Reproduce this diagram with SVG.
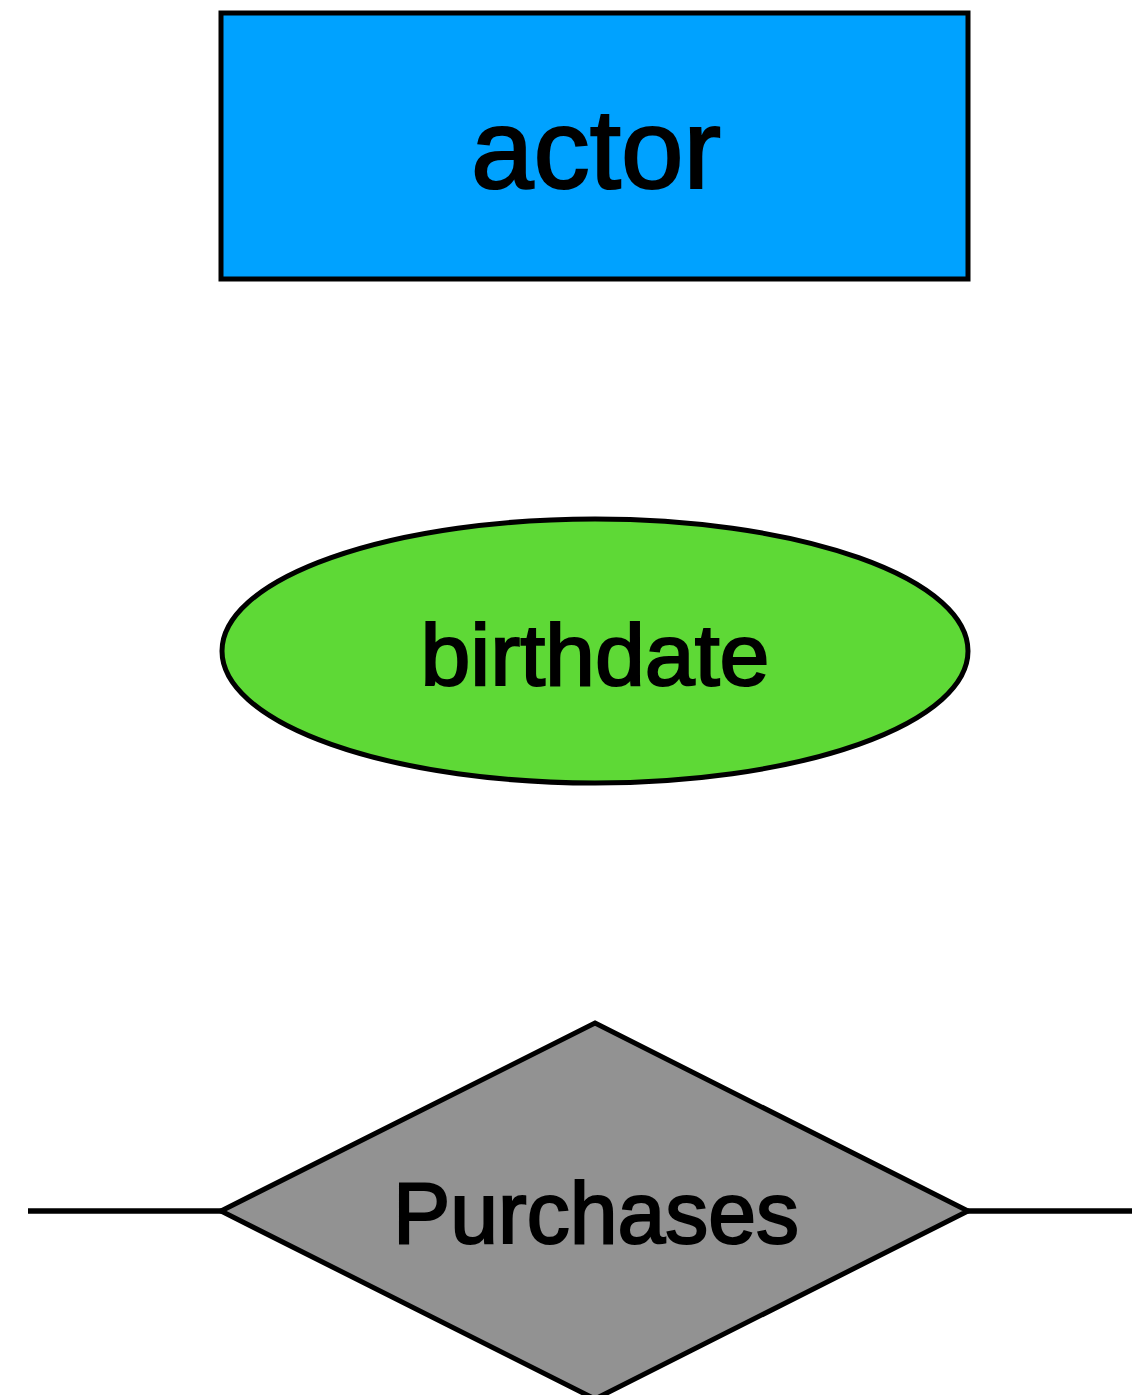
<svg xmlns="http://www.w3.org/2000/svg" width="1132" height="1395" viewBox="0 0 1132 1395">
<style>
.lbl{font-family:"Liberation Sans",Arial,sans-serif;fill:#000;text-anchor:middle;stroke:#000;stroke-width:2.2}
</style>
<rect width="1132" height="1395" fill="#fff"/>
<g id="connectors" stroke="#000" stroke-width="5.5" fill="none">
<line x1="28" y1="1211" x2="221" y2="1211"/>
<line x1="968" y1="1211" x2="1132" y2="1211"/>
</g>
<g id="actor">
<rect x="221" y="13" width="747" height="266" fill="#00a2ff" stroke="#000" stroke-width="5"/>
<text class="lbl" x="596" y="188" font-size="114" textLength="250" lengthAdjust="spacingAndGlyphs">actor</text>
</g>
<g id="birthdate">
<ellipse cx="595" cy="651" rx="373" ry="132" fill="#5ed936" stroke="#000" stroke-width="5"/>
<text class="lbl" x="595" y="685" font-size="88" textLength="349" lengthAdjust="spacingAndGlyphs">birthdate</text>
</g>
<g id="purchases">
<polygon points="595,1023 968,1211 595,1399 221,1211" fill="#929292" stroke="#000" stroke-width="5"/>
<text class="lbl" x="596" y="1243" font-size="88" textLength="406" lengthAdjust="spacingAndGlyphs">Purchases</text>
</g>
</svg>
